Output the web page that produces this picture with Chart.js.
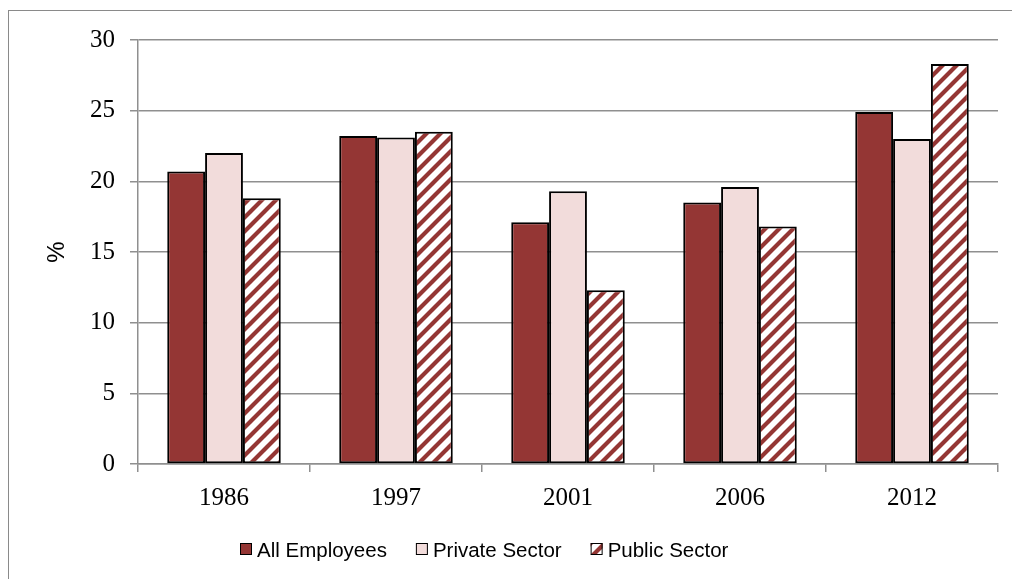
<!DOCTYPE html>
<html>
<head>
<meta charset="utf-8">
<script src="https://cdn.jsdelivr.net/npm/chart.js@4.4.1/dist/chart.umd.min.js"></script>
<style>
  html, body { margin: 0; padding: 0; background: #fff; }
  #wrap { width: 1012px; height: 579px; }
</style>
</head>
<body>
<div id="wrap"><canvas id="grafico" width="1012" height="579"></canvas></div>
<script>
// Datos
const anios = ['1986', '1997', '2001', '2006', '2012'];
const todos = [20.7, 23.2, 17.1, 18.5, 24.9];
const privado = [22.0, 23.1, 19.3, 19.6, 23.0];
const publico = [18.8, 23.5, 12.3, 16.8, 28.3];
const series = ['All Employees', 'Private Sector', 'Public Sector'];
const marcasY = [0, 5, 10, 15, 20, 25, 30];

// Colores
const rojo = '#943634';
const rosa = '#F2DCDB';
const gris = '#8f8f8f';
const serif = '"Liberation Serif", "Times New Roman", serif';
const sans = '"Liberation Sans", Arial, sans-serif';

// Rayado diagonal para el sector público
function crearRayado(color, s) {
  const c = document.createElement('canvas');
  c.width = s; c.height = s;
  const g = c.getContext('2d');
  g.fillStyle = '#fff';
  g.fillRect(0, 0, s, s);
  g.strokeStyle = color;
  g.lineWidth = s * 0.3;
  g.beginPath();
  [0, s, 2 * s].forEach(k => { g.moveTo(-2, k + 2); g.lineTo(k + 2, -2); });
  g.stroke();
  return g.createPattern(c, 'repeat');
}

const ctx = document.getElementById('grafico').getContext('2d');
const rayado = crearRayado(rojo, 14);

// Marco gris del gráfico
const marco = {
  id: 'marco',
  beforeDraw(chart) {
    const c = chart.ctx;
    c.save();
    c.strokeStyle = '#8a8a8a';
    c.lineWidth = 1;
    c.strokeRect(8.5, 10.5, 1200, 800);
    c.restore();
  }
};

// Leyenda abajo, dibujada a mano
const leyenda = {
  id: 'leyendaAbajo',
  afterDraw(chart) {
    const c = chart.ctx;
    c.save();
    c.font = '20.5px ' + sans;
    c.textBaseline = 'alphabetic';
    let x = 240;
    const y = 549;
    chart.data.datasets.forEach(ds => {
      c.fillStyle = ds.backgroundColor;
      c.fillRect(x, y - 6, 12, 12);
      c.strokeStyle = '#000';
      c.lineWidth = 1;
      c.strokeRect(x + 0.5, y - 5.5, 11, 11);
      c.fillStyle = '#000';
      c.fillText(ds.label, x + 17, 557);
      x += 17 + c.measureText(ds.label).width + 29;
    });
    c.restore();
  }
};

new Chart(ctx, {
  type: 'bar',
  data: {
    labels: anios,
    datasets: [
      { label: series[0], data: todos, backgroundColor: rojo },
      { label: series[1], data: privado, backgroundColor: rosa },
      { label: series[2], data: publico, backgroundColor: rayado }
    ]
  },
  options: {
    responsive: false,
    animation: false,
    layout: { padding: { top: 40, right: 14, left: 0, bottom: 0 } },
    plugins: { legend: { display: false }, tooltip: { enabled: false } },
    datasets: {
      bar: {
        categoryPercentage: 0.66,
        barPercentage: 1,
        borderWidth: 2,
        borderColor: '#000',
        borderSkipped: false
      }
    },
    scales: {
      x: {
        grid: { drawOnChartArea: false, offset: true, tickLength: 8, color: gris, lineWidth: 1.5 },
        border: { color: gris, width: 1.5 },
        ticks: { font: { family: serif, size: 25 }, color: '#000', padding: 11 },
        afterFit: s => { s.height = 115; }
      },
      y: {
        min: 0,
        max: 30,
        afterBuildTicks: s => { s.ticks = marcasY.map(v => ({ value: v })); },
        grid: { tickLength: 8, color: gris, lineWidth: 1.5 },
        border: { color: gris, width: 1.5 },
        ticks: { font: { family: serif, size: 25 }, color: '#000', padding: 15 },
        title: {
          display: true,
          text: '%',
          font: { family: sans, size: 24 },
          color: '#000',
          padding: { top: 43, bottom: 0 }
        },
        afterFit: s => { s.width = 138; }
      }
    }
  },
  plugins: [marco, leyenda]
});
</script>
</body>
</html>
